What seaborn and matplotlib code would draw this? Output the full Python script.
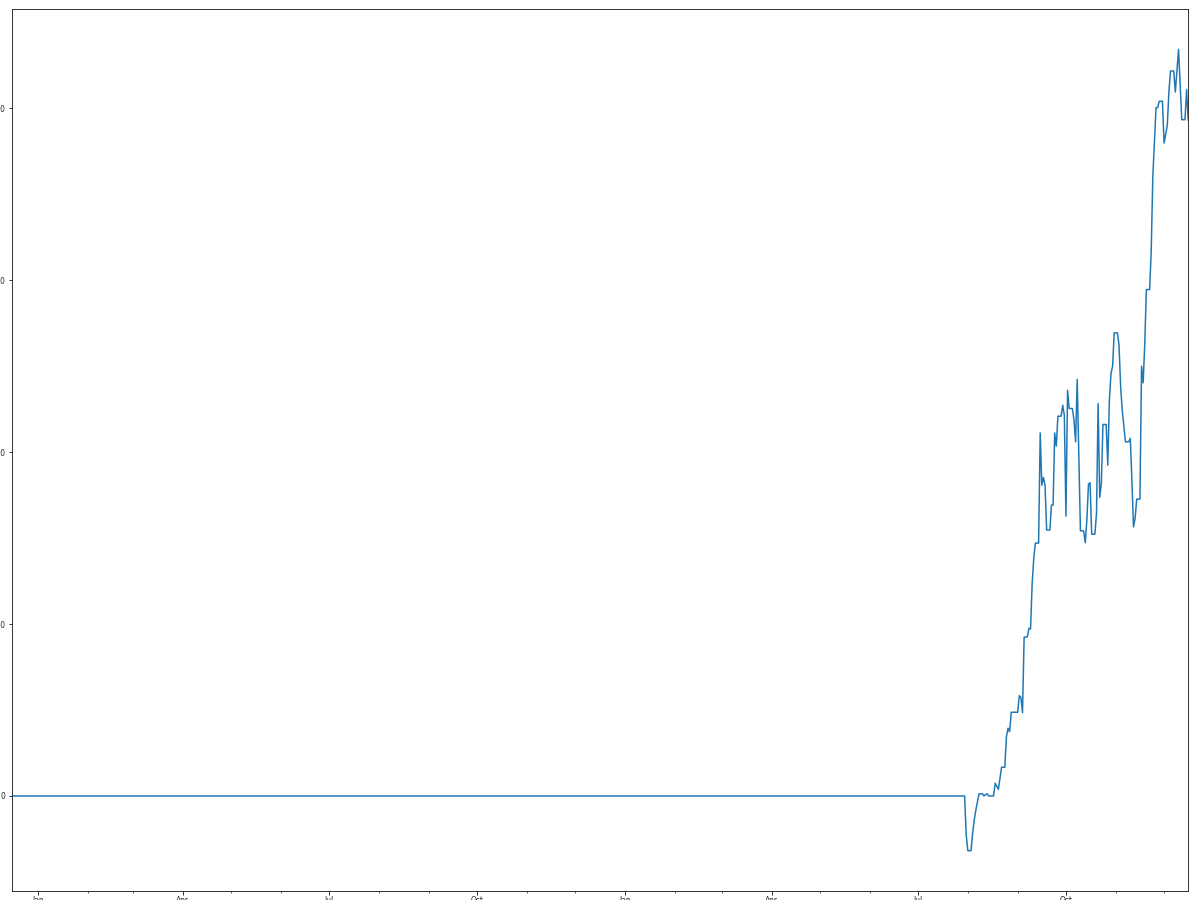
import matplotlib
matplotlib.use("Agg")
import matplotlib.pyplot as plt
import matplotlib.dates as mdates
import matplotlib.ticker as mticker
import pandas as pd
import seaborn as sns

# ---- data ----
dates = [
    "2018-12-16", "2020-07-30", "2020-07-31",
    # August
    "2020-08-01", "2020-08-03", "2020-08-04", "2020-08-05", "2020-08-06", "2020-08-07",
    "2020-08-08", "2020-08-10", "2020-08-11", "2020-08-13", "2020-08-14", "2020-08-17",
    "2020-08-18", "2020-08-20", "2020-08-22", "2020-08-24", "2020-08-25", "2020-08-26",
    "2020-08-27", "2020-08-28",
    # September
    "2020-09-01", "2020-09-02", "2020-09-03", "2020-09-04", "2020-09-05", "2020-09-07",
    "2020-09-08", "2020-09-09", "2020-09-10", "2020-09-11", "2020-09-12", "2020-09-14",
    "2020-09-15", "2020-09-16", "2020-09-17", "2020-09-18", "2020-09-19", "2020-09-21",
    "2020-09-22", "2020-09-23", "2020-09-24", "2020-09-25", "2020-09-26", "2020-09-28",
    "2020-09-29", "2020-09-30",
    # October
    "2020-10-01", "2020-10-02", "2020-10-03", "2020-10-05", "2020-10-06", "2020-10-07",
    "2020-10-08", "2020-10-09", "2020-10-10", "2020-10-12", "2020-10-13", "2020-10-14",
    "2020-10-15", "2020-10-16", "2020-10-17", "2020-10-19", "2020-10-20", "2020-10-21",
    "2020-10-22", "2020-10-23", "2020-10-24", "2020-10-26", "2020-10-27", "2020-10-28",
    "2020-10-29", "2020-10-30", "2020-10-31",
    # November
    "2020-11-02", "2020-11-03", "2020-11-04", "2020-11-05", "2020-11-07", "2020-11-09",
    "2020-11-10", "2020-11-11", "2020-11-12", "2020-11-13", "2020-11-14", "2020-11-16",
    "2020-11-17", "2020-11-18", "2020-11-19", "2020-11-20", "2020-11-22", "2020-11-23",
    "2020-11-24", "2020-11-26", "2020-11-27", "2020-11-28", "2020-11-30",
    # December
    "2020-12-01", "2020-12-03", "2020-12-04", "2020-12-05", "2020-12-07", "2020-12-08",
    "2020-12-10", "2020-12-12", "2020-12-14", "2020-12-15", "2020-12-16",
]

values = [
    0, 0, -227,
    # August
    -318, -318, -215, -140, -81, -33,
    13, 13, 0, 13, 0, 0,
    74, 39, 167, 167, 345, 394,
    374, 487,
    # September
    487, 583, 574, 484, 923, 926,
    975, 971, 1237, 1384, 1471, 1471,
    2112, 1808, 1853, 1808, 1547, 1547,
    1692, 1692, 2112, 2035, 2209, 2209,
    2273, 2215,
    # October
    1628, 2360, 2254, 2254, 2186, 2060,
    2423, 1983, 1542, 1542, 1473, 1605,
    1814, 1822, 1523, 1523, 1644, 2283,
    1737, 1818, 2161, 2161, 1924, 2302,
    2458, 2500, 2694,
    # November
    2694, 2622, 2380, 2244, 2060, 2060,
    2080, 1837, 1565, 1615, 1727, 1727,
    2500, 2403, 2632, 2946, 2946, 3165,
    3601, 4004, 4004, 4041, 4041,
    # December
    3798, 3901, 4095, 4217, 4217, 4095,
    4343, 3934, 3934, 4109, 3930,
]

df = pd.DataFrame({"date": pd.to_datetime(dates), "value": values})

# ---- style ----
sns.set_style("ticks")
plt.rcParams["font.family"] = ["DejaVu Sans"]
plt.rcParams["font.size"] = 7.5
plt.rcParams["axes.edgecolor"] = "#222222"
plt.rcParams["axes.linewidth"] = 0.9

fig = plt.figure(figsize=(1200 / 72, 900 / 72), dpi=72)
ax = fig.add_axes([12.3 / 1200, (900 - 890.7) / 900,
                   (1188.2 - 12.3) / 1200, (890.7 - 9.3) / 900])

sns.lineplot(data=df, x="date", y="value", ax=ax, color="#1f77b4",
             linewidth=1.5, estimator=None)

ax.set_xlim(df["date"].iloc[0], df["date"].iloc[-1])
ax.set_xlabel("")
ax.set_ylabel("")
ax.yaxis.set_major_locator(mticker.MultipleLocator(1000))

ax.xaxis.set_major_locator(mdates.MonthLocator(bymonth=[1, 4, 7, 10]))
ax.xaxis.set_minor_locator(mdates.MonthLocator())


def fmt(x, pos=None):
    d = mdates.num2date(x)
    if d.month == 1:
        return d.strftime("%b\n%Y")
    return d.strftime("%b")


ax.xaxis.set_major_formatter(mticker.FuncFormatter(fmt))
ax.xaxis.set_minor_formatter(mticker.NullFormatter())
ax.tick_params(axis="both", which="major", length=3.5, width=0.9,
               labelsize=7.5, color="#222222")
ax.tick_params(axis="x", which="major", pad=1.5)
ax.tick_params(axis="y", which="major", pad=3.5)
ax.tick_params(axis="both", which="minor", length=2, width=0.7, color="#222222")
for s in ax.spines.values():
    s.set_visible(True)

fig.savefig("out.png", dpi=72)
